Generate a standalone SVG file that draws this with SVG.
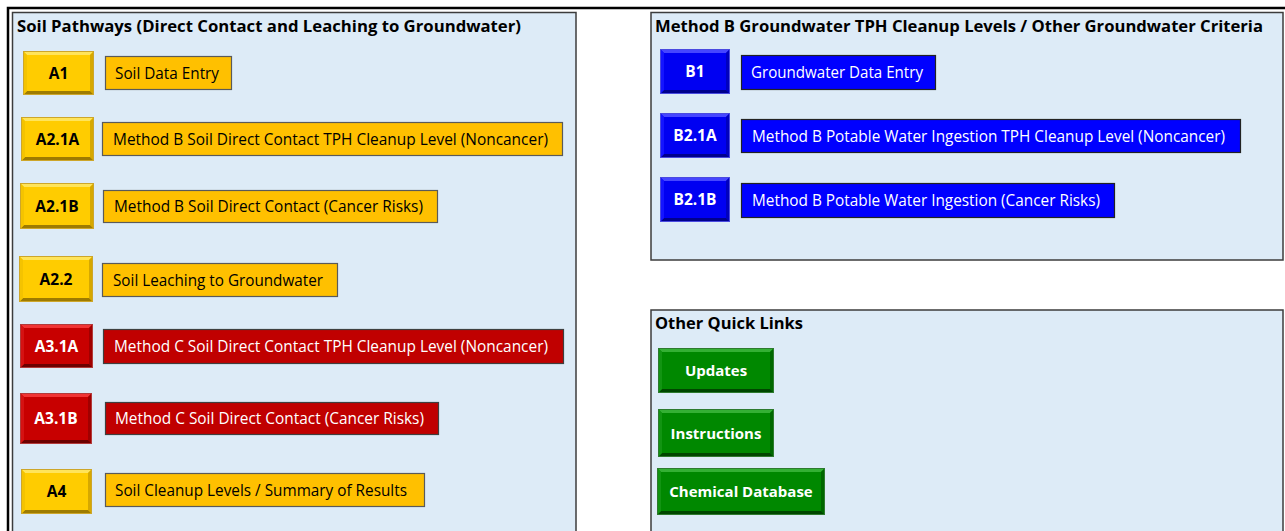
<svg xmlns="http://www.w3.org/2000/svg" width="1285" height="531" viewBox="0 0 1285 531">
<style>
  .panel{fill:#DDEBF7;stroke:#3C3C3C;stroke-width:1.5}
  .ptitle{font-family:"Open Sans","Liberation Sans",sans-serif;font-weight:bold;font-size:16.5px;fill:#000}
  .btn text{font-family:"Open Sans","Liberation Sans",sans-serif;font-weight:bold;font-size:15.5px;text-anchor:middle}
  .green text{font-size:15px}
  .o{fill:none;stroke-width:1}
  .yellow .m{fill:#FFCC00}.yellow .t{fill:#FFE45A}.yellow .r{fill:#D6A800}.yellow .b{fill:#9E7B00}.yellow .l{fill:#F4C300}.yellow .o{stroke:#CDA62A}.yellow text{fill:#000}
  .red .m{fill:#C80000}.red .t{fill:#F03434}.red .r{fill:#A00000}.red .b{fill:#6C0000}.red .l{fill:#D51212}.red .o{stroke:#B23A3A}.red text{fill:#fff}
  .blue .m{fill:#0000F2}.blue .t{fill:#4646FF}.blue .r{fill:#0000BE}.blue .b{fill:#00008C}.blue .l{fill:#1414FF}.blue .o{stroke:#4A4AE0}.blue text{fill:#fff}
  .green .m{fill:#008800}.green .t{fill:#34B034}.green .r{fill:#006800}.green .b{fill:#004600}.green .l{fill:#129412}.green .o{stroke:#2E7A2E}.green text{fill:#fff}
  .lbl rect{stroke-width:1.2}
  .lbl text{font-family:"Open Sans","Liberation Sans",sans-serif;font-size:15.5px}
  .ylbl rect{fill:#FFC000;stroke:#5A5A5A}.ylbl text{fill:#000}
  .rlbl rect{fill:#C00000;stroke:#3F3F3F}.rlbl text{fill:#fff}
  .blbl rect{fill:#0000FF;stroke:#222}.blbl text{fill:#fff}
</style>

<path d="M8,531 V8 H1285" fill="none" stroke="#000" stroke-width="2.5"/>

<g id="panel-soil">
  <rect class="panel" x="12.5" y="12.5" width="563.5" height="530"/>
  <text class="ptitle" x="17" y="31.5" textLength="504" lengthAdjust="spacingAndGlyphs">Soil Pathways (Direct Contact and Leaching to Groundwater)</text>
</g>
<g id="panel-groundwater">
  <rect class="panel" x="651" y="12.5" width="632" height="247.5"/>
  <text class="ptitle" x="655" y="31.5" textLength="608" lengthAdjust="spacingAndGlyphs">Method B Groundwater TPH Cleanup Levels / Other Groundwater Criteria</text>
</g>
<g id="panel-links">
  <rect class="panel" x="651" y="310" width="632" height="230"/>
  <text class="ptitle" x="655" y="328.5" textLength="148" lengthAdjust="spacingAndGlyphs">Other Quick Links</text>
</g>

<g id="connectors"></g>

<!-- Soil buttons -->
<g id="btn-A1" class="btn yellow" transform="translate(23,51)">
  <rect class="m" width="71" height="44"/>
  <polygon class="t" points="0,0 71,0 67,4 4,4"/>
  <polygon class="r" points="71,0 71,44 67,40 67,4"/>
  <polygon class="b" points="0,44 71,44 67,40 4,40"/>
  <polygon class="l" points="0,0 4,4 4,40 0,44"/>
  <rect class="o" x="0.5" y="0.5" width="70" height="43"/>
  <text x="35.5" y="27.5">A1</text>
</g>
<g id="lbl-A1" class="lbl ylbl"><rect x="105.5" y="56.5" width="126" height="33"/><text x="115" y="78.5" textLength="104" lengthAdjust="spacingAndGlyphs">Soil Data Entry</text></g>

<g id="btn-A2.1A" class="btn yellow" transform="translate(21,117)">
  <rect class="m" width="73" height="44"/>
  <polygon class="t" points="0,0 73,0 69,4 4,4"/>
  <polygon class="r" points="73,0 73,44 69,40 69,4"/>
  <polygon class="b" points="0,44 73,44 69,40 4,40"/>
  <polygon class="l" points="0,0 4,4 4,40 0,44"/>
  <rect class="o" x="0.5" y="0.5" width="72" height="43"/>
  <text x="36.5" y="27.5">A2.1A</text>
</g>
<g id="lbl-A2.1A" class="lbl ylbl"><rect x="102.5" y="122.5" width="460" height="33"/><text x="113" y="144.5" textLength="435" lengthAdjust="spacingAndGlyphs">Method B Soil Direct Contact TPH Cleanup Level (Noncancer)</text></g>

<g id="btn-A2.1B" class="btn yellow" transform="translate(20,183)">
  <rect class="m" width="74" height="46"/>
  <polygon class="t" points="0,0 74,0 70,4 4,4"/>
  <polygon class="r" points="74,0 74,46 70,42 70,4"/>
  <polygon class="b" points="0,46 74,46 70,42 4,42"/>
  <polygon class="l" points="0,0 4,4 4,42 0,46"/>
  <rect class="o" x="0.5" y="0.5" width="73" height="45"/>
  <text x="37" y="28.5">A2.1B</text>
</g>
<g id="lbl-A2.1B" class="lbl ylbl"><rect x="103.5" y="190.5" width="334" height="32"/><text x="114" y="212" textLength="309" lengthAdjust="spacingAndGlyphs">Method B Soil Direct Contact (Cancer Risks)</text></g>

<g id="btn-A2.2" class="btn yellow" transform="translate(19,256)">
  <rect class="m" width="74" height="46"/>
  <polygon class="t" points="0,0 74,0 70,4 4,4"/>
  <polygon class="r" points="74,0 74,46 70,42 70,4"/>
  <polygon class="b" points="0,46 74,46 70,42 4,42"/>
  <polygon class="l" points="0,0 4,4 4,42 0,46"/>
  <rect class="o" x="0.5" y="0.5" width="73" height="45"/>
  <text x="37" y="28.5">A2.2</text>
</g>
<g id="lbl-A2.2" class="lbl ylbl"><rect x="102.5" y="263.5" width="235" height="33"/><text x="113" y="285.5" textLength="210" lengthAdjust="spacingAndGlyphs">Soil Leaching to Groundwater</text></g>

<g id="btn-A3.1A" class="btn red" transform="translate(20,324)">
  <rect class="m" width="73" height="44"/>
  <polygon class="t" points="0,0 73,0 69,4 4,4"/>
  <polygon class="r" points="73,0 73,44 69,40 69,4"/>
  <polygon class="b" points="0,44 73,44 69,40 4,40"/>
  <polygon class="l" points="0,0 4,4 4,40 0,44"/>
  <rect class="o" x="0.5" y="0.5" width="72" height="43"/>
  <text x="36.5" y="27.5">A3.1A</text>
</g>
<g id="lbl-A3.1A" class="lbl rlbl"><rect x="103.5" y="329.5" width="460" height="34"/><text x="114" y="352" textLength="434" lengthAdjust="spacingAndGlyphs">Method C Soil Direct Contact TPH Cleanup Level (Noncancer)</text></g>

<g id="btn-A3.1B" class="btn red" transform="translate(20,393)">
  <rect class="m" width="72" height="51"/>
  <polygon class="t" points="0,0 72,0 68,4 4,4"/>
  <polygon class="r" points="72,0 72,51 68,47 68,4"/>
  <polygon class="b" points="0,51 72,51 68,47 4,47"/>
  <polygon class="l" points="0,0 4,4 4,47 0,51"/>
  <rect class="o" x="0.5" y="0.5" width="71" height="50"/>
  <text x="36" y="31">A3.1B</text>
</g>
<g id="lbl-A3.1B" class="lbl rlbl"><rect x="105.5" y="402.5" width="333" height="32"/><text x="115" y="424" textLength="309" lengthAdjust="spacingAndGlyphs">Method C Soil Direct Contact (Cancer Risks)</text></g>

<g id="btn-A4" class="btn yellow" transform="translate(21,469)">
  <rect class="m" width="71" height="45"/>
  <polygon class="t" points="0,0 71,0 67,4 4,4"/>
  <polygon class="r" points="71,0 71,45 67,41 67,4"/>
  <polygon class="b" points="0,45 71,45 67,41 4,41"/>
  <polygon class="l" points="0,0 4,4 4,41 0,45"/>
  <rect class="o" x="0.5" y="0.5" width="70" height="44"/>
  <text x="35.5" y="28">A4</text>
</g>
<g id="lbl-A4" class="lbl ylbl"><rect x="105.5" y="473.5" width="319" height="33"/><text x="115" y="495.5" textLength="292" lengthAdjust="spacingAndGlyphs">Soil Cleanup Levels / Summary of Results</text></g>

<!-- Groundwater buttons -->
<g id="btn-B1" class="btn blue" transform="translate(660,49)">
  <rect class="m" width="70" height="45"/>
  <polygon class="t" points="0,0 70,0 66,4 4,4"/>
  <polygon class="r" points="70,0 70,45 66,41 66,4"/>
  <polygon class="b" points="0,45 70,45 66,41 4,41"/>
  <polygon class="l" points="0,0 4,4 4,41 0,45"/>
  <rect class="o" x="0.5" y="0.5" width="69" height="44"/>
  <text x="35" y="28">B1</text>
</g>
<g id="lbl-B1" class="lbl blbl"><rect x="741.5" y="55.5" width="194" height="34"/><text x="751" y="78" textLength="172" lengthAdjust="spacingAndGlyphs">Groundwater Data Entry</text></g>

<g id="btn-B2.1A" class="btn blue" transform="translate(660,113)">
  <rect class="m" width="70" height="45"/>
  <polygon class="t" points="0,0 70,0 66,4 4,4"/>
  <polygon class="r" points="70,0 70,45 66,41 66,4"/>
  <polygon class="b" points="0,45 70,45 66,41 4,41"/>
  <polygon class="l" points="0,0 4,4 4,41 0,45"/>
  <rect class="o" x="0.5" y="0.5" width="69" height="44"/>
  <text x="35" y="28">B2.1A</text>
</g>
<g id="lbl-B2.1A" class="lbl blbl"><rect x="741.5" y="119.5" width="499" height="33"/><text x="752" y="141.5" textLength="473" lengthAdjust="spacingAndGlyphs">Method B Potable Water Ingestion TPH Cleanup Level (Noncancer)</text></g>

<g id="btn-B2.1B" class="btn blue" transform="translate(660,177)">
  <rect class="m" width="70" height="45"/>
  <polygon class="t" points="0,0 70,0 66,4 4,4"/>
  <polygon class="r" points="70,0 70,45 66,41 66,4"/>
  <polygon class="b" points="0,45 70,45 66,41 4,41"/>
  <polygon class="l" points="0,0 4,4 4,41 0,45"/>
  <rect class="o" x="0.5" y="0.5" width="69" height="44"/>
  <text x="35" y="28">B2.1B</text>
</g>
<g id="lbl-B2.1B" class="lbl blbl"><rect x="741.5" y="183.5" width="373" height="34"/><text x="752" y="206" textLength="348" lengthAdjust="spacingAndGlyphs">Method B Potable Water Ingestion (Cancer Risks)</text></g>

<!-- Quick links -->
<g id="btn-updates" class="btn green" transform="translate(658,348)">
  <rect class="m" width="116" height="45"/>
  <polygon class="t" points="0,0 116,0 112,4 4,4"/>
  <polygon class="r" points="116,0 116,45 112,41 112,4"/>
  <polygon class="b" points="0,45 116,45 112,41 4,41"/>
  <polygon class="l" points="0,0 4,4 4,41 0,45"/>
  <rect class="o" x="0.5" y="0.5" width="115" height="44"/>
  <text x="58" y="28">Updates</text>
</g>
<g id="btn-instructions" class="btn green" transform="translate(658,409)">
  <rect class="m" width="116" height="48"/>
  <polygon class="t" points="0,0 116,0 112,4 4,4"/>
  <polygon class="r" points="116,0 116,48 112,44 112,4"/>
  <polygon class="b" points="0,48 116,48 112,44 4,44"/>
  <polygon class="l" points="0,0 4,4 4,44 0,48"/>
  <rect class="o" x="0.5" y="0.5" width="115" height="47"/>
  <text x="58" y="29.5">Instructions</text>
</g>
<g id="btn-chemical-database" class="btn green" transform="translate(657,468)">
  <rect class="m" width="168" height="47"/>
  <polygon class="t" points="0,0 168,0 164,4 4,4"/>
  <polygon class="r" points="168,0 168,47 164,43 164,4"/>
  <polygon class="b" points="0,47 168,47 164,43 4,43"/>
  <polygon class="l" points="0,0 4,4 4,43 0,47"/>
  <rect class="o" x="0.5" y="0.5" width="167" height="46"/>
  <text x="84" y="29">Chemical Database</text>
</g>
</svg>
